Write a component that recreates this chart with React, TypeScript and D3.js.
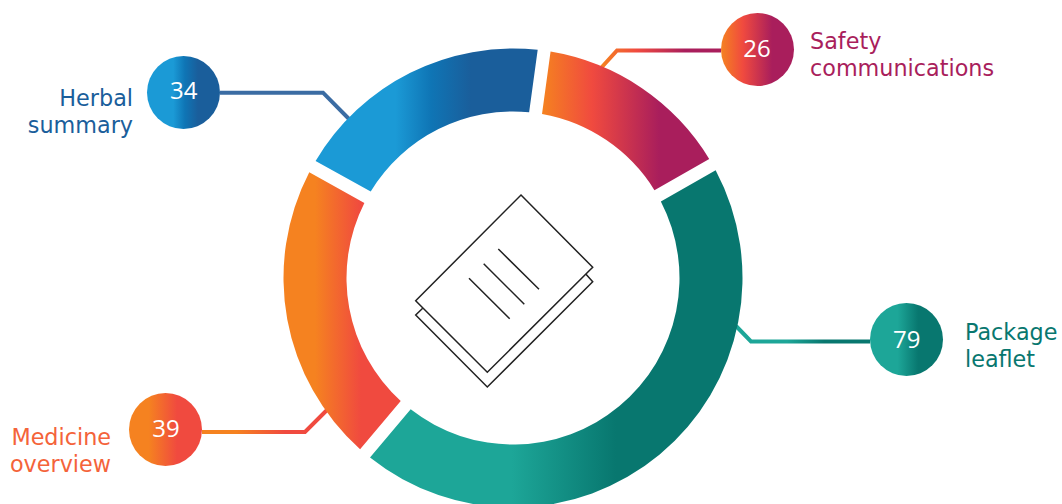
import React from "react";
import * as d3 from "d3";

const categories = ["Safety communications", "Package leaflet", "Medicine overview", "Herbal summary"];
const counts = [26, 79, 39, 34];
const labelLines = [["Safety", "communications"], ["Package", "leaflet"], ["Medicine", "overview"], ["Herbal", "summary"]];
const labelColors = ["#A91E5C", "#08776F", "#F4633A", "#1A5E9B"];
const gradientStops = [
  [["0", "#F58220"], ["0.3", "#F04A3F"], ["0.7", "#A91E5C"]],
  [["0.38", "#1DA698"], ["0.66", "#08776F"]],
  [["0.27", "#F58220"], ["0.66", "#F04A3F"]],
  [["0.36", "#1B9AD6"], ["0.52", "#0F75B5"], ["0.7", "#1A5E9B"]],
];

const WIDTH = 1062;
const HEIGHT = 504;
const CX = 513;
const CY = 278;
const R_OUTER = 229.5;
const R_INNER = 166.5;
const START_DEG = 7.8;
const GAP = 13;
const BADGE_R = 36.5;
const LABEL_FONT = "'DejaVu Sans', Verdana, sans-serif";

// Badge centres, value baselines, leader routes and label anchors for each slice.
const layout = [
  { badge: [757.5, 49.5], value: [757, 56.7], leader: [[721, 50.5], [617, 50.5], [601, 68]], leaderStroke: "url(#grad-0)", label: [810, 49], anchor: "start" },
  { badge: [906.5, 339.5], value: [906.7, 348.3], leader: [[870, 341.5], [751, 341.5], [736, 326]], leaderStroke: "url(#grad-1)", label: [965, 340], anchor: "start" },
  { badge: [165.5, 429.5], value: [166, 436.7], leader: [[202, 432], [305, 432], [328, 409]], leaderStroke: "url(#grad-2)", label: [111, 445], anchor: "end" },
  { badge: [183.5, 92.5], value: [183.7, 99.3], leader: [[220, 92.7], [323, 92.7], [351, 121]], leaderStroke: "#3B6CA3", label: [133, 106], anchor: "end" },
];

const sheetTop = "M521,195 L592.7,267.3 L487.3,372.3 L415.7,300.7 Z";
const sheetUnder = "M422.7,308.3 L415.7,315 L487.3,387 L592.7,281.7 L586,274.3";
const textRules = "M498.3,249 L539,289.3 M483.7,263.7 L524.3,304.3 M469,278.3 L509.7,318.7";

export default function App() {
  const pie = d3
    .pie<number>()
    .sort(null)
    .startAngle((START_DEG * Math.PI) / 180)
    .endAngle((START_DEG * Math.PI) / 180 + 2 * Math.PI);
  const arc = d3
    .arc<d3.PieArcDatum<number>>()
    .innerRadius(R_INNER)
    .outerRadius(R_OUTER)
    .padRadius(R_OUTER)
    .padAngle(GAP / R_OUTER);
  const line = d3.line();
  const slices = pie(counts);

  return (
    <svg
      width={WIDTH}
      height={HEIGHT}
      style={{ position: "absolute", left: 0, top: 0, display: "block", background: "#fff" }}
    >
      <defs>
        {gradientStops.map((stops, i) => (
          <linearGradient key={i} id={`grad-${i}`} x1="0" x2="1" y1="0" y2="0">
            {stops.map(([offset, color]) => (
              <stop key={offset} offset={offset} stopColor={color} />
            ))}
          </linearGradient>
        ))}
      </defs>

      {categories.map((name, i) => (
        <g key={name}>
          <path
            d={line(layout[i].leader as [number, number][]) ?? ""}
            fill="none"
            stroke={layout[i].leaderStroke}
            strokeWidth={4}
          />
          <circle cx={layout[i].badge[0]} cy={layout[i].badge[1]} r={BADGE_R} fill={`url(#grad-${i})`} />
          <text
            x={layout[i].value[0]}
            y={layout[i].value[1]}
            textAnchor="middle"
            fontFamily="'Open Sans', sans-serif"
            fontSize={24}
            fill="#fff"
          >
            {counts[i]}
          </text>
          <text
            x={layout[i].label[0]}
            y={layout[i].label[1]}
            textAnchor={layout[i].anchor}
            fontFamily={LABEL_FONT}
            fontSize={22.3}
            fill={labelColors[i]}
          >
            {labelLines[i].map((t, k) => (
              <tspan key={t} x={layout[i].label[0]} dy={k === 0 ? 0 : 27}>
                {t}
              </tspan>
            ))}
          </text>
        </g>
      ))}

      <g transform={`translate(${CX},${CY})`}>
        {slices.map((s, i) => (
          <path key={categories[i]} d={arc(s) ?? ""} fill={`url(#grad-${i})`} />
        ))}
      </g>

      <g fill="none" stroke="#222" strokeWidth={1.5} strokeLinejoin="miter">
        <path d={sheetUnder} />
        <path d={sheetTop} />
        <path d={textRules} />
      </g>
    </svg>
  );
}
